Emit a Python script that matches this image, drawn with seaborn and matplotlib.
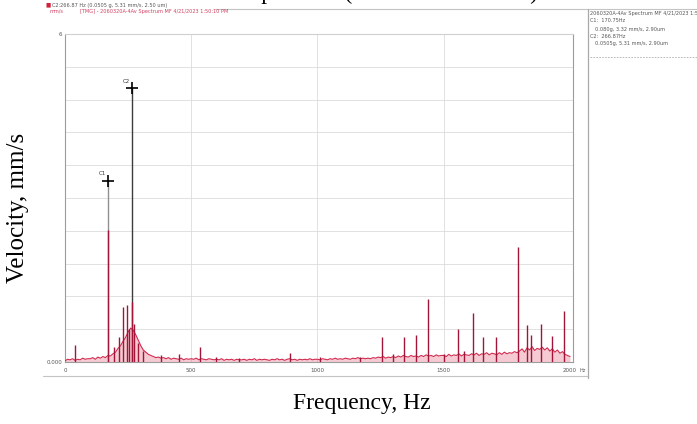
import matplotlib
matplotlib.use("Agg")
import matplotlib.pyplot as plt
import seaborn as sns
import pandas as pd
from matplotlib.lines import Line2D

# ---------------- data ----------------
freq_step_hz = 10
noise_floor = [
    0.02, 0.05, 0.04, 0.06, 0.03, 0.05, 0.04, 0.07, 0.05, 0.06,
    0.06, 0.08, 0.05, 0.09, 0.07, 0.10, 0.08, 0.12, 0.11, 0.15,
    0.18, 0.25, 0.30, 0.38, 0.45, 0.55, 0.62, 0.58, 0.50, 0.40,
    0.30, 0.22, 0.18, 0.14, 0.12, 0.10, 0.08, 0.09, 0.07, 0.08,
    0.06, 0.08, 0.05, 0.07, 0.06, 0.05, 0.07, 0.04, 0.06, 0.05,
    0.06, 0.05, 0.07, 0.04, 0.06, 0.05, 0.04, 0.06, 0.05, 0.04,
    0.05, 0.04, 0.06, 0.03, 0.05, 0.04, 0.05, 0.03, 0.05, 0.04,
    0.04, 0.05, 0.03, 0.05, 0.04, 0.06, 0.03, 0.05, 0.04, 0.05,
    0.04, 0.03, 0.05, 0.04, 0.06, 0.04, 0.05, 0.03, 0.05, 0.06,
    0.04, 0.05, 0.03, 0.05, 0.04, 0.05, 0.04, 0.06, 0.04, 0.05,
    0.05, 0.04, 0.06, 0.05, 0.04, 0.06, 0.05, 0.07, 0.05, 0.06,
    0.05, 0.07, 0.06, 0.05, 0.07, 0.06, 0.08, 0.06, 0.07, 0.06,
    0.07, 0.06, 0.08, 0.07, 0.09, 0.08, 0.10, 0.07, 0.09, 0.08,
    0.10, 0.08, 0.11, 0.09, 0.12, 0.10, 0.09, 0.12, 0.10, 0.11,
    0.09, 0.12, 0.10, 0.13, 0.11, 0.12, 0.10, 0.13, 0.11, 0.12,
    0.12, 0.10, 0.14, 0.11, 0.13, 0.12, 0.15, 0.11, 0.14, 0.13,
    0.12, 0.15, 0.13, 0.16, 0.12, 0.15, 0.14, 0.17, 0.13, 0.16,
    0.15, 0.13, 0.17, 0.14, 0.18, 0.15, 0.17, 0.16, 0.19, 0.17,
    0.20, 0.24, 0.18, 0.26, 0.22, 0.28, 0.21, 0.25, 0.23, 0.27,
    0.22, 0.26, 0.20, 0.24, 0.18, 0.22, 0.16, 0.19, 0.14, 0.12,
    0.10,
]
peak_freqs = [40, 170.75, 195, 214, 228, 244, 252, 266.87, 275, 290, 310,
              380, 450, 534, 600, 690, 890, 1010, 1170, 1255, 1300, 1342,
              1390, 1437, 1500, 1556, 1580, 1615, 1655, 1706, 1793, 1829,
              1845, 1884, 1928, 1975]
peak_amps = [0.32, 2.41, 0.27, 0.45, 1.00, 1.05, 0.60, 1.10, 0.70, 0.35, 0.20,
             0.12, 0.15, 0.27, 0.10, 0.08, 0.17, 0.10, 0.10, 0.45, 0.15, 0.45,
             0.50, 1.15, 0.15, 0.60, 0.20, 0.90, 0.45, 0.45, 2.10, 0.68,
             0.50, 0.70, 0.48, 0.93]
cursor_names = ["C1", "C2"]
cursor_freqs = [170.75, 266.87]
cursor_vals = [3.32, 5.01]
x_ticks = [0, 500, 1000, 1500, 2000]
x_tick_labels = ["0", "500", "1000", "1500", "2000"]
y_ticks = [0, 0.6, 1.2, 1.8, 2.4, 3.0, 3.6, 4.2, 4.8, 5.4, 6.0]
y_tick_labels = ["0.000", "", "", "", "", "", "", "", "", "", "6"]

df = pd.DataFrame({"freq": [i * freq_step_hz for i in range(len(noise_floor))],
                   "vel": noise_floor})

# ---------------- figure ----------------
W, H = 697, 424
sns.set_theme(style="white")
plt.rcParams['font.family'] = ['DejaVu Sans']

fig = plt.figure(figsize=(W / 100, H / 100), dpi=100)
fig.patch.set_facecolor("white")

def fx(px):
    return px / W

def fy(py):
    return 1 - py / H

# screenshot chrome
fig.lines.append(Line2D([fx(215), fx(697)], [fy(9), fy(9)], transform=fig.transFigure,
                        color="#c4c4c4", lw=0.8))
fig.lines.append(Line2D([fx(43), fx(588)], [fy(376), fy(376)], transform=fig.transFigure,
                        color="#c4c4c4", lw=0.8))
fig.lines.append(Line2D([fx(588), fx(588)], [fy(9), fy(378)], transform=fig.transFigure,
                        color="#a8a8a8", lw=0.9))
fig.lines.append(Line2D([fx(590), fx(697)], [fy(57), fy(57)], transform=fig.transFigure,
                        color="#b0b0b0", lw=0.6, ls=(0, (2, 1.5))))

ax = fig.add_axes([fx(65), fy(362), (573 - 65) / W, (362 - 34) / H])
ax.set_xlim(0, 2000 + 3 * 2000 / 505)
ax.set_ylim(0, 6.0)

ax.set_yticks(y_ticks)
ax.set_yticklabels(y_tick_labels)
ax.set_xticks(x_ticks)
ax.set_xticklabels(x_tick_labels)
ax.tick_params(axis="both", labelsize=4, colors="#555555", length=2, width=0.5, pad=2)
ax.tick_params(axis="y", length=0)
ax.grid(True, axis="y", color="#dcdcdc", lw=0.6)
for xv in x_ticks[1:-1]:
    ax.axvline(xv, color="#dcdcdc", lw=0.6, zorder=0)
for s in ax.spines.values():
    s.set_color("#9c9c9c")
    s.set_linewidth(0.8)
ax.spines["top"].set_color("#d0d0d0")

# cursor lines
cursor_colors = ["#909090", "#3c3c3c"]
for name, cf, cv, cc in zip(cursor_names, cursor_freqs, cursor_vals, cursor_colors):
    ax.vlines(cf, 0, cv, color=cc, lw=1.0, zorder=2)
    ax.plot([cf], [cv], marker="+", color="black", markersize=9, mew=1.2, zorder=5)
    ax.annotate(name, (cf, cv), xytext=(-7, 4), textcoords="offset points",
                fontsize=4, color="#333333")

# spectrum
ax.fill_between(df["freq"], 0, df["vel"], color="#e25070", alpha=0.3, lw=0, zorder=2)
sns.lineplot(data=df, x="freq", y="vel", ax=ax, color="#d22a4f", lw=0.8, zorder=3)
ax.vlines(peak_freqs, 0, peak_amps, color="#a01538", lw=1.0, zorder=4)
ax.set_xlabel("")
ax.set_ylabel("")

fig.text(fx(583), fy(371), "Hz", fontsize=3.5, color="#555555", ha="center", va="center")

# screenshot headers
fig.text(fx(46), fy(5), "\u25a0", fontsize=4, color="#d0203a", va="center")
fig.text(fx(52), fy(5), "C2:266.87 Hz (0.0505 g, 5.31 mm/s, 2.50 um)", fontsize=3.6,
         color="#555555", va="center")
fig.text(fx(50), fy(11), "mm/s", fontsize=3.6, color="#d04060", va="center")
fig.text(fx(80), fy(11), "[TMG] - 2060320A-4Av Spectrum MF 4/21/2023 1:50:10 PM",
         fontsize=3.6, color="#d04060", va="center")

right_lines = [("2060320A-4Av Spectrum MF 4/21/2023 1:50:10 PM", 590, 14),
               ("C1:  170.75Hz", 590, 21),
               ("0.080g, 3.32 mm/s, 2.90um", 595, 29),
               ("C2:  266.87Hz", 590, 36),
               ("0.0505g, 5.31 mm/s, 2.90um", 595, 43)]
for t, px, py in right_lines:
    fig.text(fx(px), fy(py), t, fontsize=3.6, color="#555555", va="center")

# outer caption labels
serif = ["Liberation Serif", "DejaVu Serif"]
fig.text(fx(18), fy(208), "Velocity, mm/s", rotation=90, ha="center", va="center",
         fontsize=18, family=serif, color="black")
fig.text(fx(362), fy(404), "Frequency, Hz", ha="center", va="center",
         fontsize=17, family=serif, color="black")
fig.text(fx(248), 1.0 + 1 / H, "Spectrum (C1 and C2 marked)", ha="left", va="baseline",
         fontsize=17, family=serif, color="black")

fig.savefig("out.png", dpi=100)
